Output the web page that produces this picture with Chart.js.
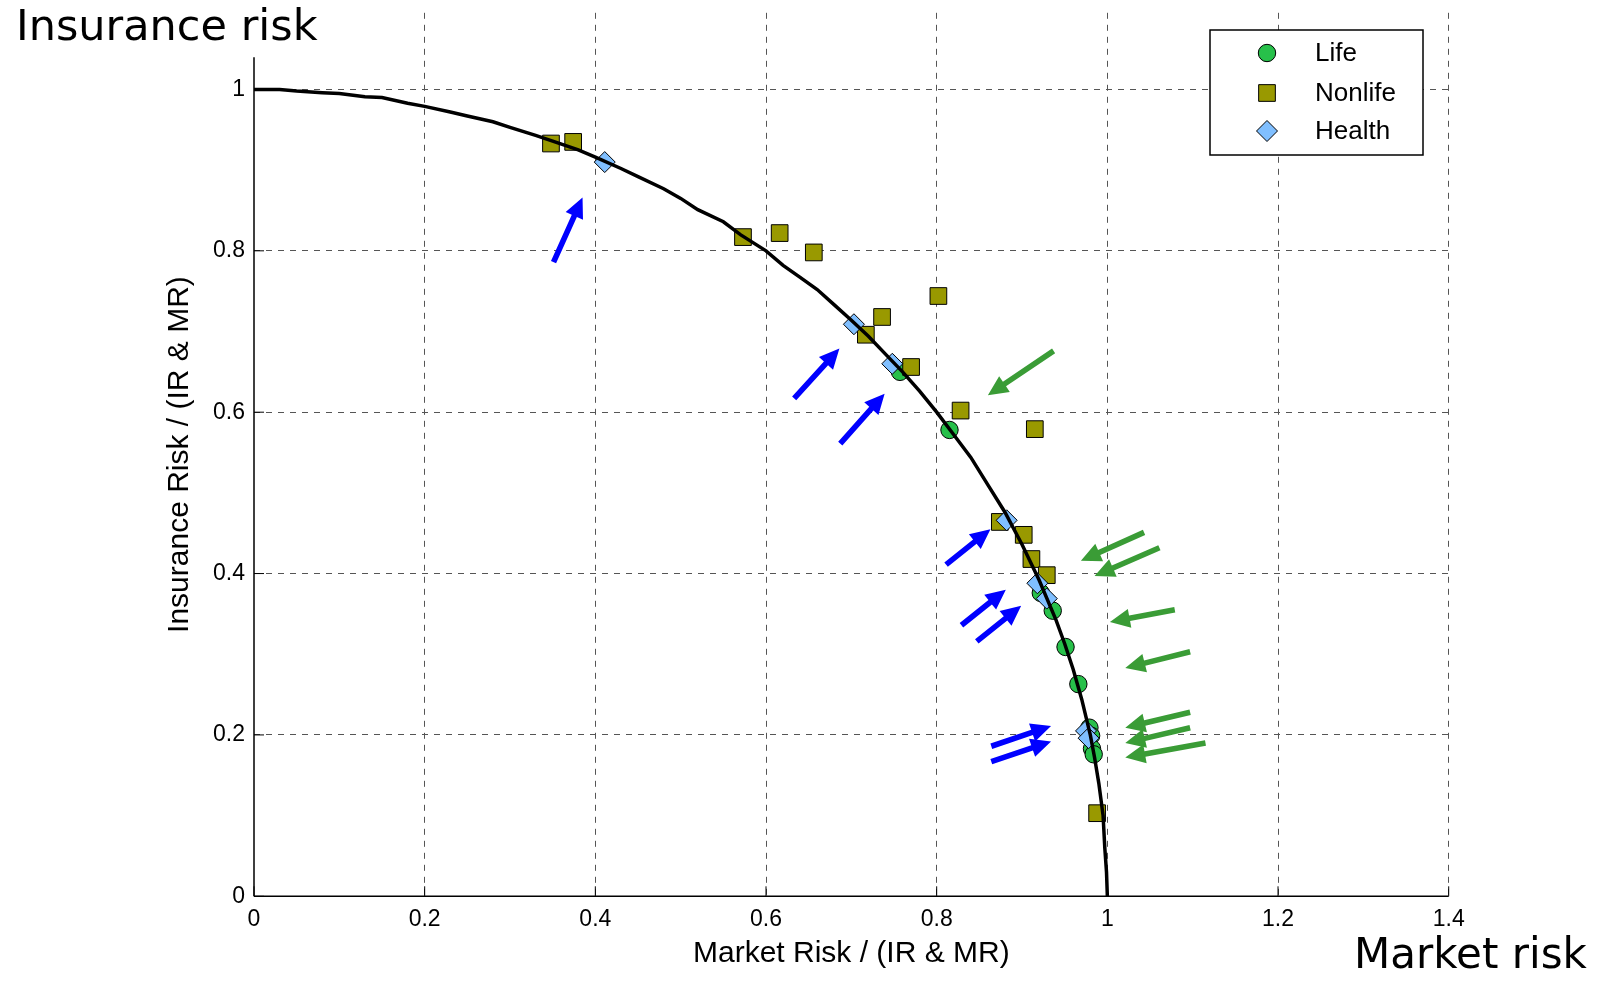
<!DOCTYPE html>
<html><head><meta charset="utf-8">
<script src="https://cdn.jsdelivr.net/npm/chart.js@4/dist/chart.umd.min.js"></script>
<style>html,body{margin:0;padding:0;background:#fff;overflow:hidden}#wrap{width:1604px;height:999px;position:relative}</style>
</head><body><div id="wrap"><canvas id="c" width="1604" height="999"></canvas></div>
<script>
// ---- data ----
const frontierX = [0,0.03,0.05,0.08,0.1,0.13,0.15,0.18,0.2,0.23,0.25,0.28,0.3,0.33,0.35,0.38,0.4,0.43,0.45,0.48,0.5,0.52,0.55,0.57,0.6,0.62,0.64,0.66,0.68,0.7,0.72,0.74,0.76,0.78,0.8,0.82,0.84,0.86,0.88,0.9,0.92,0.94,0.95,0.96,0.97,0.98,0.985,0.99,0.995,0.997,0.999,1.0];
const frontierY = [1.0,1.0,0.998,0.996,0.995,0.991,0.99,0.983,0.979,0.972,0.967,0.96,0.953,0.943,0.936,0.925,0.916,0.902,0.892,0.877,0.865,0.851,0.836,0.82,0.8,0.782,0.767,0.752,0.733,0.714,0.694,0.672,0.65,0.626,0.6,0.572,0.544,0.51,0.476,0.436,0.392,0.342,0.313,0.281,0.244,0.2,0.172,0.14,0.1,0.06,0.03,0];

const lifeX = [0.757,0.815,0.922,0.936,0.951,0.966,0.979,0.981,0.982,0.984];
const lifeY = [0.650,0.578,0.376,0.354,0.309,0.263,0.209,0.199,0.183,0.176];

const nonlifeX = [0.348,0.374,0.573,0.616,0.656,0.802,0.736,0.717,0.770,0.828,0.915,0.874,0.902,0.911,0.929,0.988];
const nonlifeY = [0.933,0.935,0.817,0.822,0.798,0.744,0.718,0.696,0.656,0.602,0.579,0.464,0.448,0.418,0.398,0.103];

const healthX = [0.411,0.703,0.748,0.882,0.918,0.929,0.975,0.978];
const healthY = [0.910,0.709,0.660,0.466,0.388,0.369,0.205,0.196];

const xTicks = [0,0.2,0.4,0.6,0.8,1,1.2,1.4];
const yTicks = [0,0.2,0.4,0.6,0.8,1];

// arrows: [tailX, tailY, headX, headY] in data units
const blueArrows = [
  [0.351,0.786,0.385,0.866],
  [0.633,0.617,0.686,0.679],
  [0.687,0.561,0.739,0.623],
  [0.811,0.411,0.863,0.455],
  [0.829,0.336,0.881,0.380],
  [0.847,0.316,0.899,0.360],
  [0.864,0.186,0.934,0.211],
  [0.864,0.167,0.934,0.192]
];
const greenArrows = [
  [0.937,0.676,0.860,0.621],
  [1.043,0.451,0.969,0.416],
  [1.061,0.432,0.985,0.397],
  [1.079,0.355,1.003,0.340],
  [1.097,0.303,1.021,0.283],
  [1.097,0.228,1.021,0.209],
  [1.097,0.209,1.021,0.190],
  [1.115,0.190,1.021,0.172]
];

const seriesNames = ['Life','Nonlife','Health'];
const yAxisTop = 1.04;

// ---- styles ----
const C_LIFE = '#27c04a', C_NON = '#999900', C_HEALTH = '#80bfff';
const tickFont = {family:'Liberation Sans, Arial, sans-serif', size:23};
const titleFont = {family:'Liberation Sans, Arial, sans-serif', size:30};

function pts(xs, ys){ return xs.map((x,i)=>({x:x, y:ys[i]})); }

function drawArrow(ctx,x0,y0,x1,y1,color){
  const dx=x1-x0, dy=y1-y0, L=Math.hypot(dx,dy), ux=dx/L, uy=dy/L;
  const hl=20, hw=9.5, sw=2.8, nx=-uy, ny=ux;
  const bx=x1-ux*hl, by=y1-uy*hl;
  ctx.beginPath();
  ctx.moveTo(x0+nx*sw,y0+ny*sw);
  ctx.lineTo(bx+nx*sw,by+ny*sw);
  ctx.lineTo(bx+nx*hw,by+ny*hw);
  ctx.lineTo(x1,y1);
  ctx.lineTo(bx-nx*hw,by-ny*hw);
  ctx.lineTo(bx-nx*sw,by-ny*sw);
  ctx.lineTo(x0-nx*sw,y0-ny*sw);
  ctx.closePath();
  ctx.fillStyle=color; ctx.fill();
}

const decor = {
  id:'decor',
  beforeDatasetsDraw(chart){
    const {ctx, scales:{x,y}} = chart;
    ctx.save();
    ctx.strokeStyle='#000'; ctx.lineWidth=1.5;
    ctx.beginPath();
    ctx.moveTo(x.getPixelForValue(0), y.getPixelForValue(0));
    ctx.lineTo(x.getPixelForValue(1.4), y.getPixelForValue(0));
    ctx.moveTo(x.getPixelForValue(0), y.getPixelForValue(0));
    ctx.lineTo(x.getPixelForValue(0), y.getPixelForValue(yAxisTop));
    ctx.stroke();
    ctx.lineWidth=1;
    ctx.beginPath();
    xTicks.forEach(v=>{const px=x.getPixelForValue(v), py=y.getPixelForValue(0); ctx.moveTo(px,py); ctx.lineTo(px,py-10);});
    yTicks.forEach(v=>{const px=x.getPixelForValue(0), py=y.getPixelForValue(v); ctx.moveTo(px,py); ctx.lineTo(px+10,py);});
    ctx.stroke();
    ctx.restore();
  },
  afterDatasetsDraw(chart){
    const {ctx, scales:{x,y}} = chart;
    ctx.save();
    blueArrows.forEach(a=>drawArrow(ctx,x.getPixelForValue(a[0]),y.getPixelForValue(a[1]),x.getPixelForValue(a[2]),y.getPixelForValue(a[3]),'#0000ff'));
    greenArrows.forEach(a=>drawArrow(ctx,x.getPixelForValue(a[0]),y.getPixelForValue(a[1]),x.getPixelForValue(a[2]),y.getPixelForValue(a[3]),'#3a9c36'));
    ctx.restore();
  },
  afterDraw(chart){
    const {ctx} = chart;
    ctx.save();
    // legend box
    const lx=1210, ly=30, lw=213, lh=125;
    ctx.fillStyle='#fff'; ctx.fillRect(lx,ly,lw,lh);
    ctx.strokeStyle='#000'; ctx.lineWidth=1.5; ctx.strokeRect(lx,ly,lw,lh);
    const rows=[53,93,131];
    const dsIdx=[1,2,3];
    ctx.font='26px "Liberation Sans", Arial, sans-serif';
    ctx.textBaseline='middle'; ctx.textAlign='left';
    dsIdx.forEach((di,i)=>{
      const ds=chart.data.datasets[di];
      ctx.fillStyle=ds.backgroundColor; ctx.strokeStyle='#000'; ctx.lineWidth=1;
      Chart.helpers.drawPoint(ctx,{pointStyle:ds.pointStyle, radius:ds.pointRadius, borderWidth:1, rotation:0}, 1267, rows[i]);
      ctx.fillStyle='#000';
      ctx.fillText(seriesNames[i], 1315, rows[i]+1);
    });
    // corner labels
    ctx.fillStyle='#000'; ctx.textBaseline='alphabetic';
    ctx.font='43px "DejaVu Sans", Verdana, sans-serif';
    ctx.fillText('Insurance risk', 16, 40);
    ctx.font='42px "DejaVu Sans", Verdana, sans-serif';
    ctx.fillText('Market risk', 1354, 968);
    ctx.restore();
  }
};

new Chart(document.getElementById('c'), {
  type:'scatter',
  data:{datasets:[
    {label:'frontier', data:pts(frontierX,frontierY), showLine:true, borderColor:'#000', borderWidth:3.5, pointRadius:0, fill:false, order:0, tension:0},
    {label:seriesNames[0], data:pts(lifeX,lifeY), pointStyle:'circle', pointRadius:8.7, backgroundColor:C_LIFE, borderColor:'#000', borderWidth:1, order:3},
    {label:seriesNames[1], data:pts(nonlifeX,nonlifeY), pointStyle:'rect', pointRadius:11.8, backgroundColor:C_NON, borderColor:'#000', borderWidth:1, order:2},
    {label:seriesNames[2], data:pts(healthX,healthY), pointStyle:'rectRot', pointRadius:10.5, backgroundColor:C_HEALTH, borderColor:'#000', borderWidth:1, order:1}
  ]},
  options:{
    responsive:false, animation:false, devicePixelRatio:1,
    layout:{padding:{left:0, right:155.3, top:12.6, bottom:0}},
    plugins:{legend:{display:false}, tooltip:{enabled:false}},
    scales:{
      x:{type:'linear', min:0, max:1.4,
        afterBuildTicks:s=>{s.ticks = xTicks.map(v=>({value:v}));},
        afterFit:s=>{s.height = 102.7; s.paddingLeft=0; s.paddingRight=0;},
        ticks:{font:tickFont, color:'#000', padding:10, maxRotation:0, callback:v=>String(Math.round(v*10)/10)},
        grid:{color:c=>c.tick && c.tick.value===0?'rgba(0,0,0,0)':'#555', lineWidth:1, drawTicks:false, tickLength:0},
        border:{display:false, dash:[6,6]},
        title:{display:true, text:'Market Risk / (IR & MR)', font:titleFont, color:'#000', padding:{top:0,bottom:27}}
      },
      y:{type:'linear', min:0, max:1.095,
        afterBuildTicks:s=>{s.ticks = yTicks.map(v=>({value:v}));},
        afterFit:s=>{s.width = 254; s.paddingTop=0; s.paddingBottom=0;},
        ticks:{font:tickFont, color:'#000', padding:9, callback:v=>String(Math.round(v*10)/10)},
        grid:{color:c=>c.tick && c.tick.value===0?'rgba(0,0,0,0)':'#555', lineWidth:1, drawTicks:false, tickLength:0},
        border:{display:false, dash:[6,6]},
        title:{display:true, text:'Insurance Risk / (IR & MR)', font:titleFont, color:'#000', padding:{top:162,bottom:0}}
      }
    }
  },
  plugins:[decor]
});
</script></body></html>
